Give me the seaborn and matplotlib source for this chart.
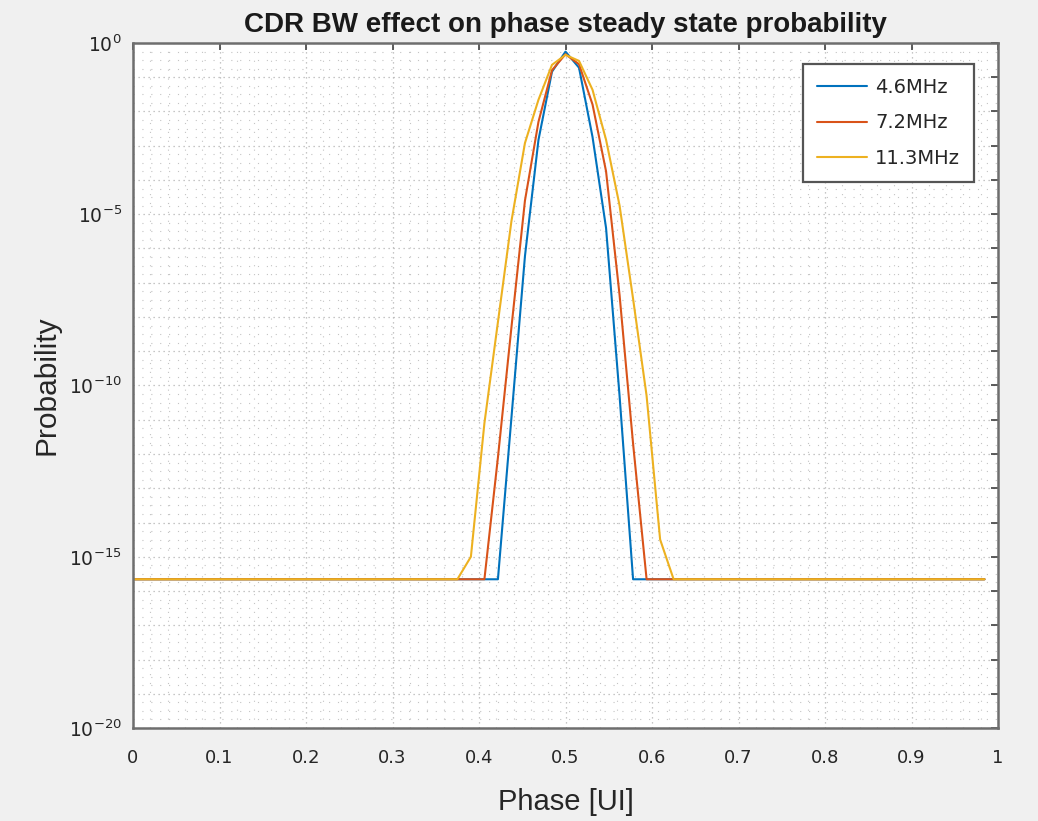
import numpy as np
import pandas as pd
import matplotlib
matplotlib.use("Agg")
import matplotlib.pyplot as plt
import matplotlib.ticker as mticker
import seaborn as sns

# ---------------- data ----------------
FLOOR = 2.2e-16
phase = [k / 64 for k in range(64)]
series_names = ["4.6MHz", "7.2MHz", "11.3MHz"]
colors = ["#0072BD", "#D95319", "#EDB120"]

prob_46 = ([FLOOR] * 28 +
           [1.15e-11, 6.0e-7, 1.48e-3, 0.145, 0.56, 0.19, 1.8e-3, 4.0e-6, 5.0e-11] +
           [FLOOR] * 27)
prob_72 = ([FLOOR] * 27 +
           [7.9e-13, 5.0e-9, 2.5e-5, 5.0e-3, 0.16, 0.47, 0.24, 0.016, 1.8e-4, 4.4e-8, 2.0e-12] +
           [FLOOR] * 26)
prob_113 = ([FLOOR] * 25 +
            [1.0e-15, 7.9e-12, 7.1e-9, 6.3e-6, 1.2e-3, 0.022, 0.23, 0.45, 0.30, 0.043,
             1.5e-3, 1.8e-5, 3.4e-8, 5.0e-11, 3.2e-15] +
            [FLOOR] * 24)

x_ticks = [0, 0.1, 0.2, 0.3, 0.4, 0.5, 0.6, 0.7, 0.8, 0.9, 1]
x_ticklabels = ["0", "0.1", "0.2", "0.3", "0.4", "0.5", "0.6", "0.7", "0.8", "0.9", "1"]
y_label_exps = [0, -5, -10, -15, -20]

df = pd.DataFrame({
    "Phase": phase * 3,
    "Probability": prob_46 + prob_72 + prob_113,
    "BW": [series_names[0]] * 64 + [series_names[1]] * 64 + [series_names[2]] * 64,
})

# ---------------- figure ----------------
sns.set_style("white")
plt.rcParams["font.family"] = ["DejaVu Sans"]
fig = plt.figure(figsize=(10.38, 8.21), dpi=100)
fig.patch.set_facecolor("#f0f0f0")
ax = fig.add_axes([133 / 1038, 1 - 728 / 821, (998 - 133) / 1038, (728 - 43) / 821])
ax.set_facecolor("white")

sns.lineplot(data=df, x="Phase", y="Probability", hue="BW", hue_order=series_names,
             palette=colors, linewidth=1.5, ax=ax, estimator=None, sort=False)

ax.set_yscale("log")
ax.set_xlim(0, 1)
ax.set_ylim(1e-20, 1)

# ticks
ax.xaxis.set_major_locator(mticker.FixedLocator(x_ticks))
ax.xaxis.set_major_formatter(mticker.FixedFormatter(x_ticklabels))
ax.xaxis.set_minor_locator(mticker.MultipleLocator(0.02))

decades = [10.0 ** e for e in range(-20, 1)]
ax.yaxis.set_major_locator(mticker.FixedLocator(decades))


def yfmt(v, pos):
    e = int(round(np.log10(v)))
    return r"$10^{%d}$" % e if e in y_label_exps else ""


ax.yaxis.set_major_formatter(mticker.FuncFormatter(yfmt))
minor_y = [10.0 ** (e + q) for e in range(-20, 0) for q in (0.25, 0.5, 0.75)]
ax.yaxis.set_minor_locator(mticker.FixedLocator(minor_y))
ax.yaxis.set_minor_formatter(mticker.NullFormatter())

ax.tick_params(axis="x", which="major", direction="in", length=5, width=1.2,
               color="#404040", top=True, labelsize=13, labelcolor="#262626", pad=15)
ax.tick_params(axis="y", which="major", direction="in", length=5, width=1.2,
               color="#404040", right=True, labelsize=13.5, labelcolor="#262626", pad=8)
ax.tick_params(axis="both", which="minor", length=0, top=True, right=True)

# grid
ax.grid(True, which="major", linestyle=(0, (1, 3)), color="#b4b4b4", linewidth=0.9)
ax.grid(True, which="minor", linestyle=(0, (1, 7)), color="#c4c4c4", linewidth=0.8)
ax.set_axisbelow(True)

for s in ax.spines.values():
    s.set_visible(True)
    s.set_color("#6e6e6e")
    s.set_linewidth(1.8)

ax.set_title("CDR BW effect on phase steady state probability", fontsize=20,
             fontweight="bold", family=["Liberation Sans"], color="#1a1a1a", pad=8)
ax.set_xlabel("Phase [UI]", fontsize=21, family=["Liberation Sans"], color="#262626",
              labelpad=15)
ax.set_ylabel("Probability", fontsize=21.5, family=["Liberation Sans"], color="#262626",
              labelpad=6)

leg = ax.legend(loc="upper right", bbox_to_anchor=(0.972, 0.969), fontsize=14,
                frameon=True, fancybox=False, handlelength=2.6, borderpad=0.7,
                labelspacing=0.85, handletextpad=0.4, borderaxespad=0.0, title=None)
leg.get_frame().set_edgecolor("#555555")
leg.get_frame().set_linewidth(1.6)
leg.get_frame().set_facecolor("white")
leg.get_frame().set_alpha(1)
for line in leg.get_lines():
    line.set_linewidth(1.5)

fig.savefig("out.png", dpi=100, facecolor=fig.get_facecolor())
